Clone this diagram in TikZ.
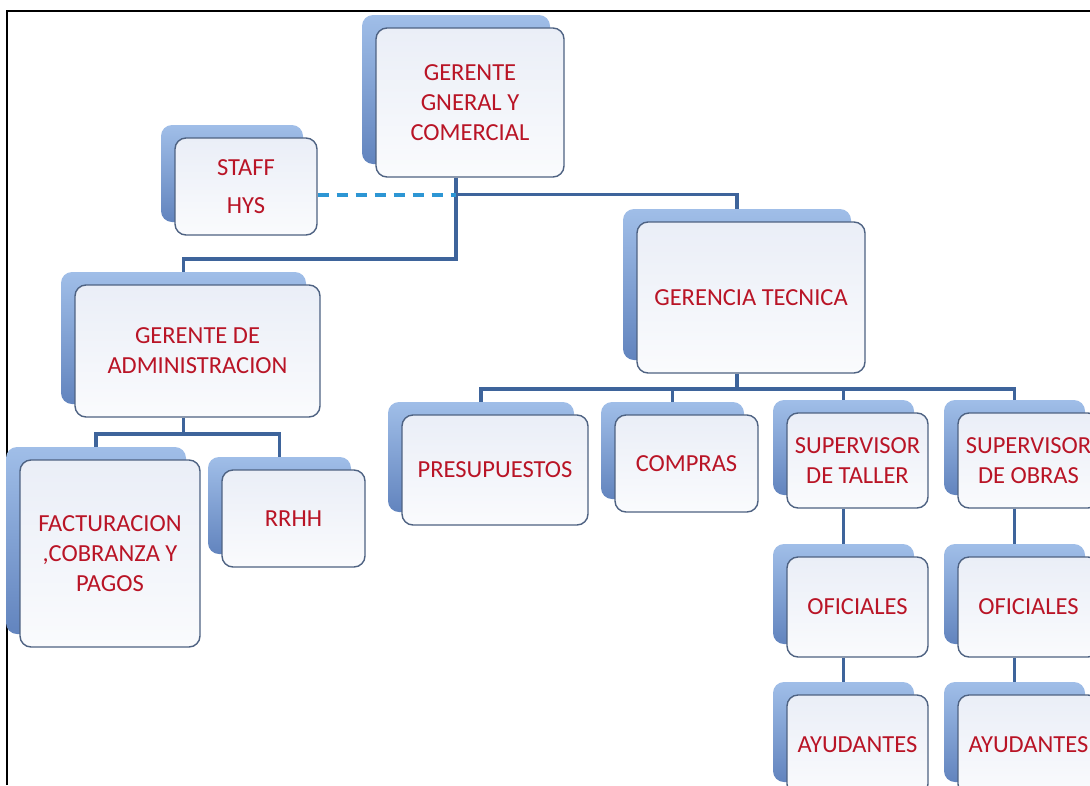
\documentclass[tikz,border=0pt]{standalone}
\usepackage{fontspec}
\setmainfont{Carlito}
\usetikzlibrary{shadows,backgrounds}
\definecolor{txtred}{RGB}{185,20,38}
\definecolor{boxedge}{RGB}{78,98,130}
\definecolor{boxtop}{RGB}{234,238,247}
\definecolor{boxbot}{RGB}{250,251,253}
\definecolor{shadtop}{RGB}{160,190,232}
\definecolor{shadbot}{RGB}{98,132,190}
\definecolor{linkblue}{RGB}{62,100,155}
\definecolor{dashblue}{RGB}{45,150,212}
\begin{document}
\begin{tikzpicture}[x=1pt,y=-1pt,
  orgbox/.style={draw=boxedge, line width=1.4pt, rounded corners=11pt,
    top color=boxtop, bottom color=boxbot, text=txtred,
    font=\fontsize{24.5}{30}\selectfont, align=center, inner sep=0pt,
    general shadow={shadow xshift=-14pt, shadow yshift=13pt,
      top color=shadtop, bottom color=shadbot}},
  sz/.style 2 args={minimum width=#1pt, minimum height=#2pt},
  link/.style={draw=linkblue, line width=3.8pt},
  staffline/.style={draw=dashblue, line width=4pt, dash pattern=on 11pt off 8pt}]

\useasboundingbox (0,0) rectangle (1090,785);
\clip (0,0) rectangle (1090,785);

% page frame
\draw[black, line width=2.5pt] (7,785) -- (7,11) -- (1090,11);

% boxes
\node[orgbox, sz={188}{149}] (gg)   at (470,102.5) {GERENTE\\GNERAL Y\\COMERCIAL};
\node[orgbox, sz={142}{97}]  (staff) at (246,186.5) {STAFF\\[8pt]HYS};
\node[orgbox, sz={245}{132}] (adm)  at (197.5,351) {GERENTE DE\\ADMINISTRACION};
\node[orgbox, sz={228}{151}] (gt)   at (751,297.5) {GERENCIA TECNICA};
\node[orgbox, sz={186}{110}] (pres) at (495,470) {PRESUPUESTOS};
\node[orgbox, sz={143}{97}]  (comp) at (686.5,463.5) {COMPRAS};
\node[orgbox, sz={141}{95}]  (tal)  at (857.5,460.5) {SUPERVISOR\\DE TALLER};
\node[orgbox, sz={141}{95}]  (obr)  at (1028.5,460.5) {SUPERVISOR\\DE OBRAS};
\node[orgbox, sz={141}{100}] (oft)  at (857.5,607) {OFICIALES};
\node[orgbox, sz={141}{100}] (ofo)  at (1028.5,607) {OFICIALES};
\node[orgbox, sz={141}{100}] (ayt)  at (857.5,745) {AYUDANTES};
\node[orgbox, sz={141}{100}] (ayo)  at (1028.5,745) {AYUDANTES};
\node[orgbox, sz={180}{187}] (fact) at (110,553.5) {FACTURACION\\,COBRANZA Y\\PAGOS};
\node[orgbox, sz={143}{97}]  (rrhh) at (293.5,518.5) {RRHH};

% connectors, behind the boxes
\begin{scope}[on background layer]
  \coordinate (ggb) at ([xshift=-14pt]gg.south);
  \coordinate (stf) at ([yshift=-8pt]staff.east);
  \draw[link] (ggb) -- ++(0,81) -| ([xshift=-14pt]adm.north);
  \draw[link] (ggb) -- (stf -| ggb) -| ([xshift=-14pt]gt.north);
  \draw[staffline] (stf) -- (stf -| ggb);

  \draw[link] ([xshift=-14pt]gt.south) -- ++(0,15) coordinate (gtbus);
  \foreach \c in {pres,comp,tal,obr}
    \draw[link] (gtbus) -| ([xshift=-14pt]\c.north);
  \draw[link] ([xshift=-14pt]tal.south) -- ([xshift=-14pt]oft.north);
  \draw[link] ([xshift=-14pt]oft.south) -- ([xshift=-14pt]ayt.north);
  \draw[link] ([xshift=-14pt]obr.south) -- ([xshift=-14pt]ofo.north);
  \draw[link] ([xshift=-14pt]ofo.south) -- ([xshift=-14pt]ayo.north);

  \draw[link] ([xshift=-14pt]adm.south) -- ++(0,16) coordinate (admbus);
  \foreach \c in {fact,rrhh}
    \draw[link] (admbus) -| ([xshift=-14pt]\c.north);
\end{scope}
\end{tikzpicture}
\end{document}
